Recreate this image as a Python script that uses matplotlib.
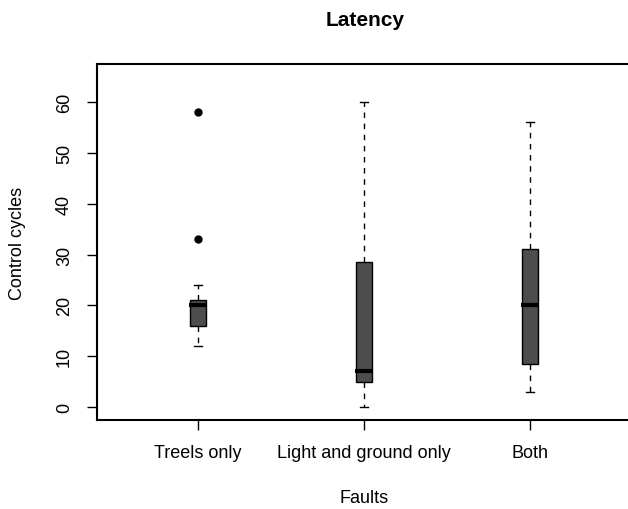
import matplotlib
matplotlib.use("Agg")
import matplotlib.pyplot as plt

categories = ["Treels only", "Light and ground only", "Both"]
q1 = [16, 5, 8.5]
medians = [20, 7, 20]
q3 = [21, 28.5, 31]
whislo = [12, 0, 3]
whishi = [24, 60, 56]
outliers = [[33, 58], [], []]
yticks = [0, 10, 20, 30, 40, 50, 60]

plt.rcParams['font.family'] = ['Liberation Sans', 'DejaVu Sans']

fig = plt.figure(figsize=(6.28, 5.10), dpi=100)
ax = fig.add_axes([96.5/628, 1-421/510, (633-96.5)/628, (421-65)/510])

stats = []
for i, c in enumerate(categories):
    stats.append(dict(label=c, med=medians[i], q1=q1[i], q3=q3[i],
                      whislo=whislo[i], whishi=whishi[i], fliers=outliers[i]))

positions = [1, 2, 3]
res = ax.bxp(stats, positions=positions, widths=0.1, capwidths=0.05,
             patch_artist=True, showfliers=True,
             boxprops=dict(facecolor='#4d4d4d', edgecolor='black', linewidth=1),
             medianprops=dict(color='black', linewidth=3, solid_capstyle='butt'),
             whiskerprops=dict(color='black', linewidth=1, linestyle=(0, (4, 4))),
             capprops=dict(color='black', linewidth=1),
             flierprops=dict(marker='o', markerfacecolor='black', markeredgecolor='black', markersize=5))

# extend median lines slightly beyond the box, as R does
for m in res['medians']:
    xs = m.get_xdata()
    m.set_xdata([xs[0] - 0.006, xs[1] + 0.006])

ax.set_xlim(0.389, 3.62)
ax.set_ylim(-2.56, 67.5)
ax.set_yticks(yticks)
ax.set_yticklabels([str(v) for v in yticks], rotation=90, va='center', fontsize=13)
ax.set_xticks(positions)
ax.set_xticklabels(categories, fontsize=13)
ax.tick_params(axis='both', length=7, width=1, color='black')
ax.tick_params(axis='y', pad=10)
ax.tick_params(axis='x', pad=10)
for s in ax.spines.values():
    s.set_linewidth(1.5)

fig.text(364/628, 1-499/510, "Faults", fontsize=13, ha='center', va='center')
fig.text(18/628, 1-243/510, "Control cycles", fontsize=13, ha='center', va='center', rotation=90)
fig.text(365/628, 1-20/510, "Latency", fontsize=15, fontweight='bold', ha='center', va='center')

fig.savefig("out.png", dpi=100)
